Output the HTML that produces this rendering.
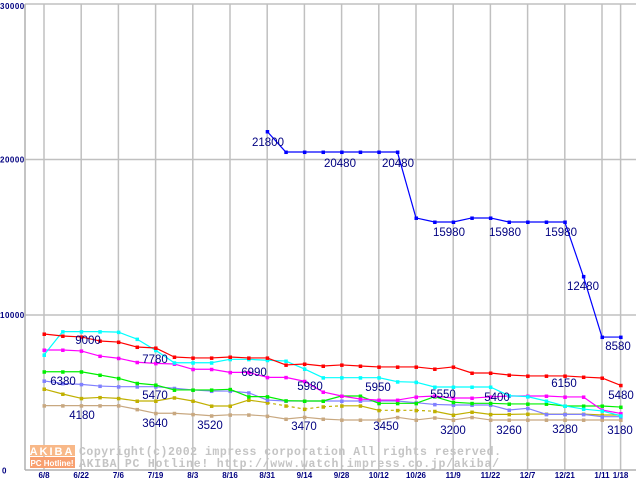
<!DOCTYPE html>
<html><head><meta charset="utf-8">
<style>
html,body{margin:0;padding:0;background:#fff;}
svg{display:block;font-family:"Liberation Sans",sans-serif;}
</style></head>
<body>
<svg id="chart" width="640" height="480" viewBox="0 0 640 480" xmlns="http://www.w3.org/2000/svg">
<g id="grid"></g>
<g id="watermark">
  <rect x="30" y="445" width="45" height="11" fill="#f8b888"/>
  <rect x="30" y="457" width="45" height="11" fill="#f8a070"/>
  <text x="52" y="455" font-size="11" font-weight="bold" fill="#fff" text-anchor="middle" letter-spacing="2">AKIBA</text>
  <text x="52" y="466" font-size="8" font-weight="bold" fill="#fff" text-anchor="middle">PC Hotline!</text>
  <text x="79" y="455" font-size="11.5" font-weight="bold" fill="#c4c4c4" font-family="Liberation Mono, monospace" textLength="422" lengthAdjust="spacing">Copyright(c)2002 impress corporation All rights reserved.</text>
  <text x="79" y="467" font-size="11.5" font-weight="bold" fill="#c4c4c4" font-family="Liberation Mono, monospace" textLength="420" lengthAdjust="spacing">AKIBA PC Hotline!  http://www.watch.impress.co.jp/akiba/</text>
</g>
<g id="series"></g>
<g id="labels" font-size="11.5" fill="#000080"></g>
<g id="axes" font-size="8" fill="#000080"></g>
</svg>
<script>
const xLabels=["6/8","6/22","7/6","7/19","8/3","8/16","8/31","9/14","9/28","10/12","10/26","11/9","11/22","12/7","12/21","1/11","1/18"];
const xLabelIdx=[0,2,4,6,8,10,12,14,16,18,20,22,24,26,28,30,31];
const yTicks=[0,10000,20000,30000];
const blue=[null,null,null,null,null,null,null,null,null,null,null,null,21800,20480,20480,20480,20480,20480,20480,20480,16240,15980,15980,16240,16240,15980,15980,15980,15980,12480,8580,8580];
const red=[8780,8650,8590,8330,8260,7940,7880,7300,7240,7240,7300,7240,7240,6790,6850,6720,6790,6720,6660,6660,6660,6530,6660,6270,6270,6140,6080,6080,6080,6010,5950,5480];
const cyan=[7430,8930,8930,8930,8900,8450,7730,6930,6930,6930,7150,7150,7090,7040,6530,5970,5970,5970,5970,5710,5680,5370,5370,5370,5370,4810,4750,4470,4150,3950,3830,3520];
const magenta=[7750,7750,7690,7360,7220,6960,6890,6850,6510,6510,6310,6310,5990,5990,5740,5050,4790,4600,4530,4530,4730,4790,4660,4660,4730,4790,4790,4790,4730,4730,3890,3670];
const green=[6350,6350,6350,6140,5930,5610,5500,5180,5180,5180,5220,4750,4750,4490,4470,4470,4790,4790,4320,4320,4320,4750,4390,4320,4320,4280,4280,4280,4150,4150,4150,4080];
const lavender=[5760,5600,5540,5430,5390,5390,5390,5290,5180,5110,5110,5000,4530,4470,4470,4470,4470,4470,4470,4470,4360,4250,4210,4210,4210,3890,4000,3610,3610,3610,3460,3460];
const olive=[5240,4920,4640,4700,4640,4470,4470,4680,4470,4150,4150,4530,4360,4160,3950,4100,4160,4160,3870,3870,3870,3810,3570,3760,3610,3610,3630,3630,3630,3630,3570,3570];
const tan=[4170,4170,4170,4170,4170,3930,3680,3680,3610,3520,3580,3580,3500,3310,3430,3310,3250,3250,3250,3420,3250,3390,3250,3420,3250,3250,3250,3250,3250,3250,3250,3250];
const seriesList=[["tan",tan,"#c8a880"],["olive",olive,"#c0b000"],["lavender",lavender,"#8080ff"],["green",green,"#00f000"],["magenta",magenta,"#ff00ff"],["cyan",cyan,"#00ffff"],["red",red,"#ff0000"],["blue",blue,"#0000ff"]];
const valueLabels=[["9000",88,344],["7780",155,363],["6380",63,385],["5470",155,399],["4180",82,419],["3640",155,427],["3520",210,429],["6990",254,376],["5980",310,390],["3470",304,430],["21800",268,146],["20480",340,167],["20480",398,167],["15980",449,236],["15980",505,236],["15980",561,236],["12480",583,290],["8580",618,350],["5950",378,391],["5550",443,398],["5400",497,401],["3450",386,430],["3200",453,434],["3260",509,434],["3280",565,433],["6150",564,387],["5480",621,399],["3180",620,434]];
const NS="http://www.w3.org/2000/svg";
const x=i=>44+i*18.6;
const y=v=>470.5-v*0.01555;
function mk(tag,attrs,parent){const e=document.createElementNS(NS,tag);for(const k in attrs)e.setAttribute(k,attrs[k]);parent.appendChild(e);return e;}
const grid=document.getElementById('grid'),axes=document.getElementById('axes'),ser=document.getElementById('series'),lab=document.getElementById('labels');
yTicks.forEach(t=>{
  if(t>0){const l=mk('line',{x1:25,x2:636,y1:y(t),y2:y(t),stroke:"#c0c0c0","stroke-width":1.5},grid);
  
  }
  const tx=mk('text',{x:t===0?2:0,y:y(t)+(t===30000?5:3),"font-size":8,"font-weight":"bold","letter-spacing":"0.5"},axes);
  tx.textContent=String(t);
  
  
});
xLabelIdx.forEach((i,k)=>{
  const l=mk('line',{x1:x(i),x2:x(i),y1:4,y2:470,stroke:"#c0c0c0","stroke-width":1.5},grid);
  
  
  const tx=mk('text',{x:x(i),y:478,"text-anchor":"middle","font-weight":"bold"},axes);
  tx.textContent=xLabels[k];
  
  
});
const ax=mk('line',{x1:25,x2:25,y1:4,y2:470,stroke:"#b0b0b0","stroke-width":1.5},axes);


const bx=mk('line',{x1:25,x2:636,y1:470,y2:470,stroke:"#b0b0b0","stroke-width":1.5},axes);


seriesList.forEach(([name,vals,col])=>{
  const g=mk('g',{},ser);
  
  
  for(let i=1;i<vals.length;i++){
    if(vals[i]==null||vals[i-1]==null)continue;
    const dashed=name==="olive"&&((i>12&&i<=16)||(i>18&&i<=21));
    const s=mk('line',{x1:x(i-1),y1:y(vals[i-1]),x2:x(i),y2:y(vals[i]),stroke:col,"stroke-width":1.2},g);
    if(dashed)s.setAttribute('stroke-dasharray','3,3');
    
    
  }
  vals.forEach((v,i)=>{
    if(v==null)return;
    const p=mk('rect',{x:x(i)-1.5,y:y(v)-1.5,width:3.5,height:3.5,fill:col},g);
    
    
  });
});
valueLabels.forEach(([t,cx,cy])=>{
  const tx=mk('text',{x:cx,y:cy,"text-anchor":"middle"},lab);
  tx.textContent=t;
  
  
});
</script>
</body></html>
